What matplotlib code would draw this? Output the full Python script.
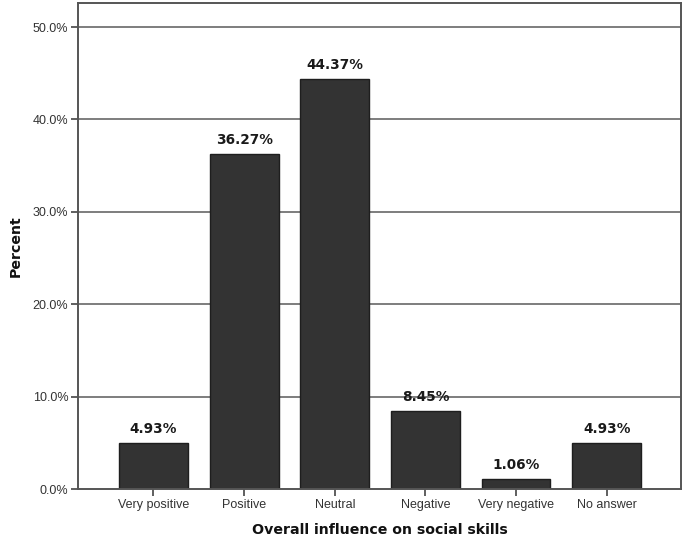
import matplotlib
matplotlib.use("Agg")
import matplotlib.pyplot as plt

# Survey data
categories = ["Very positive", "Positive", "Neutral", "Negative", "Very negative", "No answer"]
percents = [4.93, 36.27, 44.37, 8.45, 1.06, 4.93]
ytick_values = [0, 10, 20, 30, 40, 50]
ytick_labels = ["0.0%", "10.0%", "20.0%", "30.0%", "40.0%", "50.0%"]

fig = plt.figure(figsize=(6.85, 5.39), dpi=100)
ax = fig.add_axes([78 / 685, 1 - 489 / 539, (681 - 78) / 685, (489 - 3) / 539])

x = list(range(len(categories)))
ax.set_axisbelow(True)
for yv in ytick_values[1:]:
    ax.axhline(yv, color="#5a5a5a", lw=1.1, zorder=0)

bars = ax.bar(x, percents, width=0.76, color="#333333", edgecolor="#1e1e1e",
              linewidth=1.0, zorder=2)

for xi, p in zip(x, percents):
    ax.annotate(f"{p:.2f}%", (xi, p), xytext=(0, 10), textcoords="offset pixels",
                ha="center", va="baseline", fontsize=9.8, fontweight="bold",
                family="DejaVu Sans", color="#1a1a1a", zorder=3)

ax.set_xlim(-0.833, 5.82)
ax.set_ylim(0, 52.6)
ax.set_xticks(x)
ax.set_xticklabels(categories, family="Liberation Sans", fontsize=9, color="#333333")
ax.set_yticks(ytick_values)
ax.set_yticklabels(ytick_labels, family="Liberation Sans", fontsize=9, color="#333333")
ax.tick_params(axis="both", length=5, width=1.2, color="#444444", pad=2)

for side in ["left", "right", "top", "bottom"]:
    ax.spines[side].set_color("#555555")
    ax.spines[side].set_linewidth(1.4)

ax.set_xlabel("Overall influence on social skills", fontsize=10.2, fontweight="bold",
              family="DejaVu Sans", color="#111111", labelpad=9)
ax.set_ylabel("Percent", fontsize=10.2, fontweight="bold", family="DejaVu Sans",
              color="#111111", labelpad=7)

fig.savefig("out.png", dpi=100)
